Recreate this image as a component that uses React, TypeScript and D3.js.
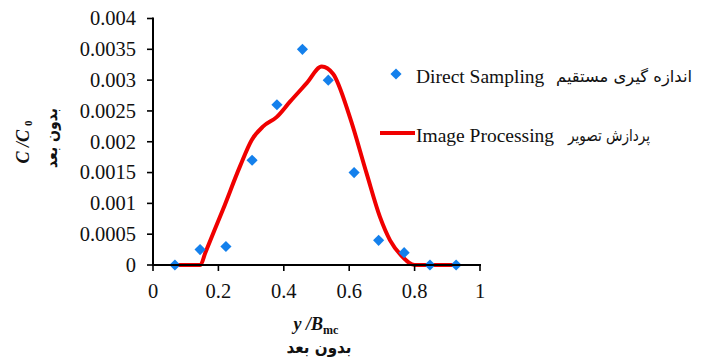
import * as d3 from "d3";

// Direct sampling measurements (blue diamonds)
const sampleX = [0.067, 0.144, 0.223, 0.303, 0.379, 0.457, 0.536, 0.615, 0.69, 0.768, 0.847, 0.927];
const sampleY = [0, 0.00025, 0.0003, 0.0017, 0.0026, 0.0035, 0.003, 0.0015, 0.0004, 0.0002, 0, 0];

// Image processing profile (red curve)
const curveX = [0.067, 0.145, 0.16, 0.214, 0.266, 0.302, 0.337, 0.378, 0.419, 0.47, 0.516, 0.551, 0.602, 0.653, 0.694, 0.725, 0.76, 0.8, 0.927];
const curveY = [0, 0, 0.0002, 0.0009, 0.0016, 0.00203, 0.00225, 0.0024, 0.00265, 0.00295, 0.00322, 0.0031, 0.0024, 0.00149, 0.00078, 0.0004, 0.00015, 0, 0];

const xTicks = [0, 0.2, 0.4, 0.6, 0.8, 1];
const xTickLabels = ["0", "0.2", "0.4", "0.6", "0.8", "1"];
const yTicks = [0, 0.0005, 0.001, 0.0015, 0.002, 0.0025, 0.003, 0.0035, 0.004];
const yTickLabels = ["0", "0.0005", "0.001", "0.0015", "0.002", "0.0025", "0.003", "0.0035", "0.004"];

const legendLabels = ["Direct Sampling", "Image Processing"];
const legendLabelsFa = ["اندازه گیری مستقیم", "پردازش تصویر"];
const unitlessFa = "بدون بعد";

const BLUE = "#1480ec";
const RED = "#f00000";
const SERIF = "'Liberation Serif', 'Times New Roman', 'DejaVu Serif', serif";
const FA = "'DejaVu Sans', sans-serif";

export default function App() {
  const W = 703;
  const H = 361;
  const x = d3.scaleLinear().domain([0, 1]).range([153, 480]);
  const y = d3.scaleLinear().domain([0, 0.004]).range([265, 18.5]);

  const line = d3
    .line<number>()
    .x((_, i) => x(curveX[i]))
    .y((d) => y(d))
    .curve(d3.curveMonotoneX);

  const diamond = d3.symbol().type(d3.symbolSquare).size(62)();
  const x0 = x(0);
  const y0 = y(0);

  return (
    <svg
      width={W}
      height={H}
      style={{ position: "absolute", left: 0, top: 0, background: "#fff" }}
    >
      {/* curve under the markers */}
      <path d={line(curveY) ?? ""} fill="none" stroke={RED} strokeWidth={4} strokeLinejoin="round" />
      {sampleY.map((v, i) => (
        <path
          key={i}
          d={diamond ?? ""}
          fill={BLUE}
          transform={`translate(${x(sampleX[i])},${y(v)}) rotate(45)`}
        />
      ))}

      {/* axes */}
      <g stroke="#000" strokeWidth={2}>
        <line x1={x0} x2={x0} y1={y(0.004) - 1} y2={y0 + 1} />
        <line x1={x0 - 1} x2={x(1) + 1} y1={y0} y2={y0} />
        {yTicks.map((t) => (
          <line key={t} x1={x0 - 6} x2={x0} y1={y(t)} y2={y(t)} strokeWidth={1.6} />
        ))}
        {xTicks.map((t) => (
          <line key={t} x1={x(t)} x2={x(t)} y1={y0} y2={y0 + 6} strokeWidth={1.6} />
        ))}
      </g>
      <g fontFamily={SERIF} fontSize={20.5} fill="#111">
        {yTicks.map((t, i) => (
          <text key={t} x={x0 - 17} y={y(t) + 6.8} textAnchor="end">
            {yTickLabels[i]}
          </text>
        ))}
        {xTicks.map((t, i) => (
          <text key={t} x={x(t)} y={298} textAnchor="middle">
            {xTickLabels[i]}
          </text>
        ))}
      </g>

      {/* y title */}
      <g transform="translate(29,142) rotate(-90)">
        <text textAnchor="middle" fontFamily={SERIF} fontSize={18} fontStyle="italic" fontWeight="bold" fill="#111" xmlSpace="preserve">
          {"C /C"}
          <tspan fontSize={11} fontStyle="normal" dx={4} dy={3}>0</tspan>
        </text>
      </g>
      <g transform="translate(57,138) rotate(-90)">
        <text
          textAnchor="middle"
          fontFamily={FA}
          fontSize={16}
          fontWeight="bold"
          fill="#111"
          textLength={60}
          lengthAdjust="spacingAndGlyphs"
        >
          {unitlessFa}
        </text>
      </g>

      {/* x title */}
      <text x={316} y={330} textAnchor="middle" fontFamily={SERIF} fontSize={18} fontWeight="bold" fill="#111" xmlSpace="preserve">
        <tspan fontStyle="italic">{"y /B"}</tspan>
        <tspan fontSize={12} dy={4}>mc</tspan>
      </text>
      <text
        x={319}
        y={353}
        textAnchor="middle"
        fontFamily={FA}
        fontSize={16.5}
        fontWeight="bold"
        fill="#111"
        textLength={65}
        lengthAdjust="spacingAndGlyphs"
      >
        {unitlessFa}
      </text>

      {/* legend */}
      <path d={diamond ?? ""} fill={BLUE} transform="translate(396,74) rotate(45)" />
      <line x1={380} x2={415} y1={133} y2={133} stroke={RED} strokeWidth={4} />
      <g fontFamily={SERIF} fontSize={19.5} fill="#111">
        <text x={416} y={83}>{legendLabels[0]}</text>
        <text x={416} y={141.5}>{legendLabels[1]}</text>
      </g>
      <g fontFamily={FA} fontSize={16} fill="#111">
        <text x={692} y={82} textAnchor="end" textLength={136} lengthAdjust="spacingAndGlyphs">
          {legendLabelsFa[0]}
        </text>
        <text x={650} y={141} textAnchor="end" textLength={82} lengthAdjust="spacingAndGlyphs">
          {legendLabelsFa[1]}
        </text>
      </g>
    </svg>
  );
}
